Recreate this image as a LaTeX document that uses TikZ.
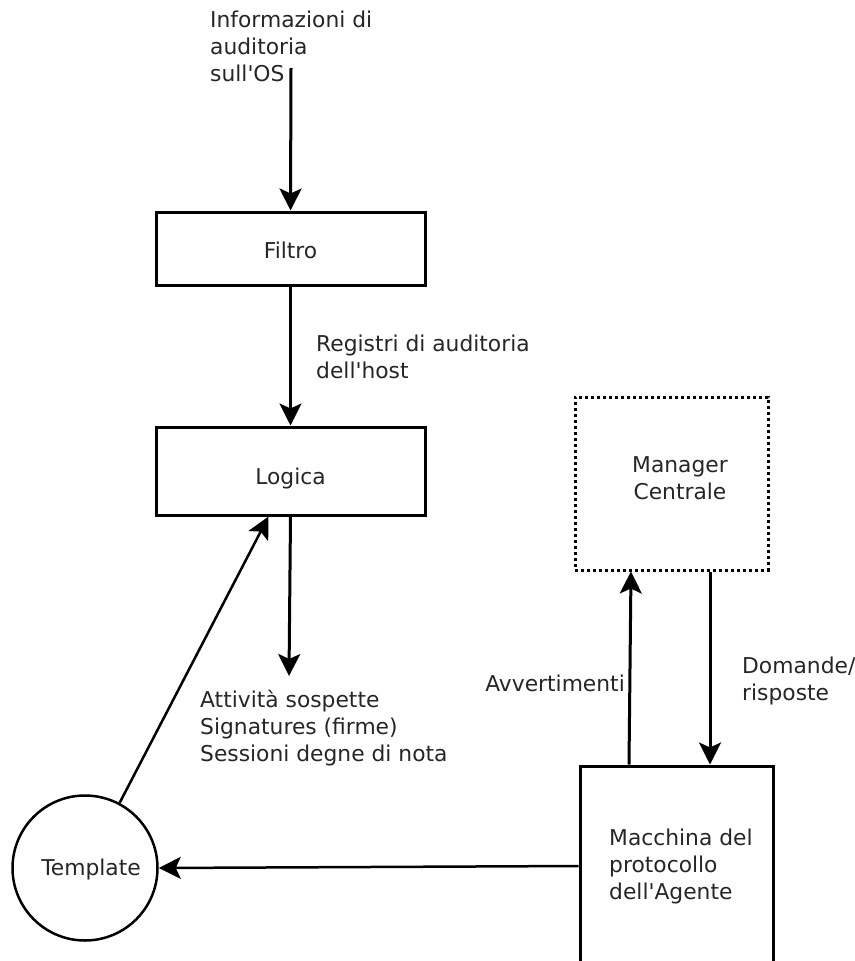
\documentclass[tikz,border=0pt]{standalone}
\usepackage{fontspec}
\setmainfont{DejaVu Sans}
\usetikzlibrary{arrows.meta}
\newcommand{\apo}{\textquotesingle}
\begin{document}
\begin{tikzpicture}[x=1pt,y=-1pt,
  every node/.style={font=\fontsize{21.8}{27}\selectfont, text=black!85},
  blk/.style={draw=black, line width=3pt, rectangle, inner sep=0pt},
  dotbox/.style={draw=black, line width=3pt, dash pattern=on 3pt off 3pt, inner sep=0pt},
  flow/.style={line width=3pt, -{Stealth[length=22pt,width=22pt,inset=5pt]}},
  thin flow/.style={line width=2.5pt, -{Stealth[length=22pt,width=22pt,inset=5pt]}},
  lbl/.style={align=left, inner sep=0pt}
]
\clip (0,0) rectangle (854,961);
\useasboundingbox (0,0) rectangle (854,961);

% processing boxes
\node[blk, minimum width=269pt, minimum height=73pt] (filtro) at (290.5,248.5) {};
\node[lbl] at (290.5,250) {Filtro};
\node[blk, minimum width=269pt, minimum height=88pt] (logica) at (290.5,471) {};
\node[lbl] at (290.5,478) {Logica};
\node[dotbox, minimum width=193pt, minimum height=173pt] (manager) at (671.5,483.5) {};
\node[lbl, align=center] at (680,478) {Manager\\Centrale};
\node[blk, minimum width=193pt, minimum height=260pt] (agent) at (676.5,896) {};
\node[lbl, anchor=west] (agenttxt) at (609,866) {Macchina del\\protocollo\\dell\apo Agente};
\node[draw=black, line width=2.5pt, circle, minimum size=145pt, inner sep=0pt] (tmpl) at (85,868) {};
\node[lbl] at (91,869) {Template};

% input from the OS
\node[lbl, anchor=west] (osinfo) at (210,46) {Informazioni di\\auditoria\\sull\apo OS};
\coordinate (osin) at (291,68);
\draw[flow] (osin) -- (filtro.north);

% filter to logic
\draw[flow] (filtro.south) -- (logica.north);
\node[lbl, anchor=west] (registri) at (316,357) {Registri di auditoria\\dell\apo host};

% logic output
\coordinate (out) at (289,676);
\draw[flow] (logica.south) -- (out);
\node[lbl, anchor=west] (attiv) at (200,728) {Attività sospette\\Signatures (firme)\\Sessioni degne di nota};

% template feeds the logic
\draw[thin flow] (tmpl.62) -- ([xshift=-22pt]logica.south);

% agent links
\draw[flow] ([xshift=-47.5pt]agent.north) -- ([xshift=-40.5pt]manager.south);
\node[lbl, anchor=east] (avv) at (625,683) {Avvertimenti};
\draw[flow] ([xshift=38.5pt]manager.south) -- ([xshift=33.5pt]agent.north);
\node[lbl, anchor=west] (dom) at (742,681) {Domande/\\risposte};
\draw[thin flow] ([yshift=30pt]agent.west) -- (tmpl.east);
\end{tikzpicture}
\end{document}
